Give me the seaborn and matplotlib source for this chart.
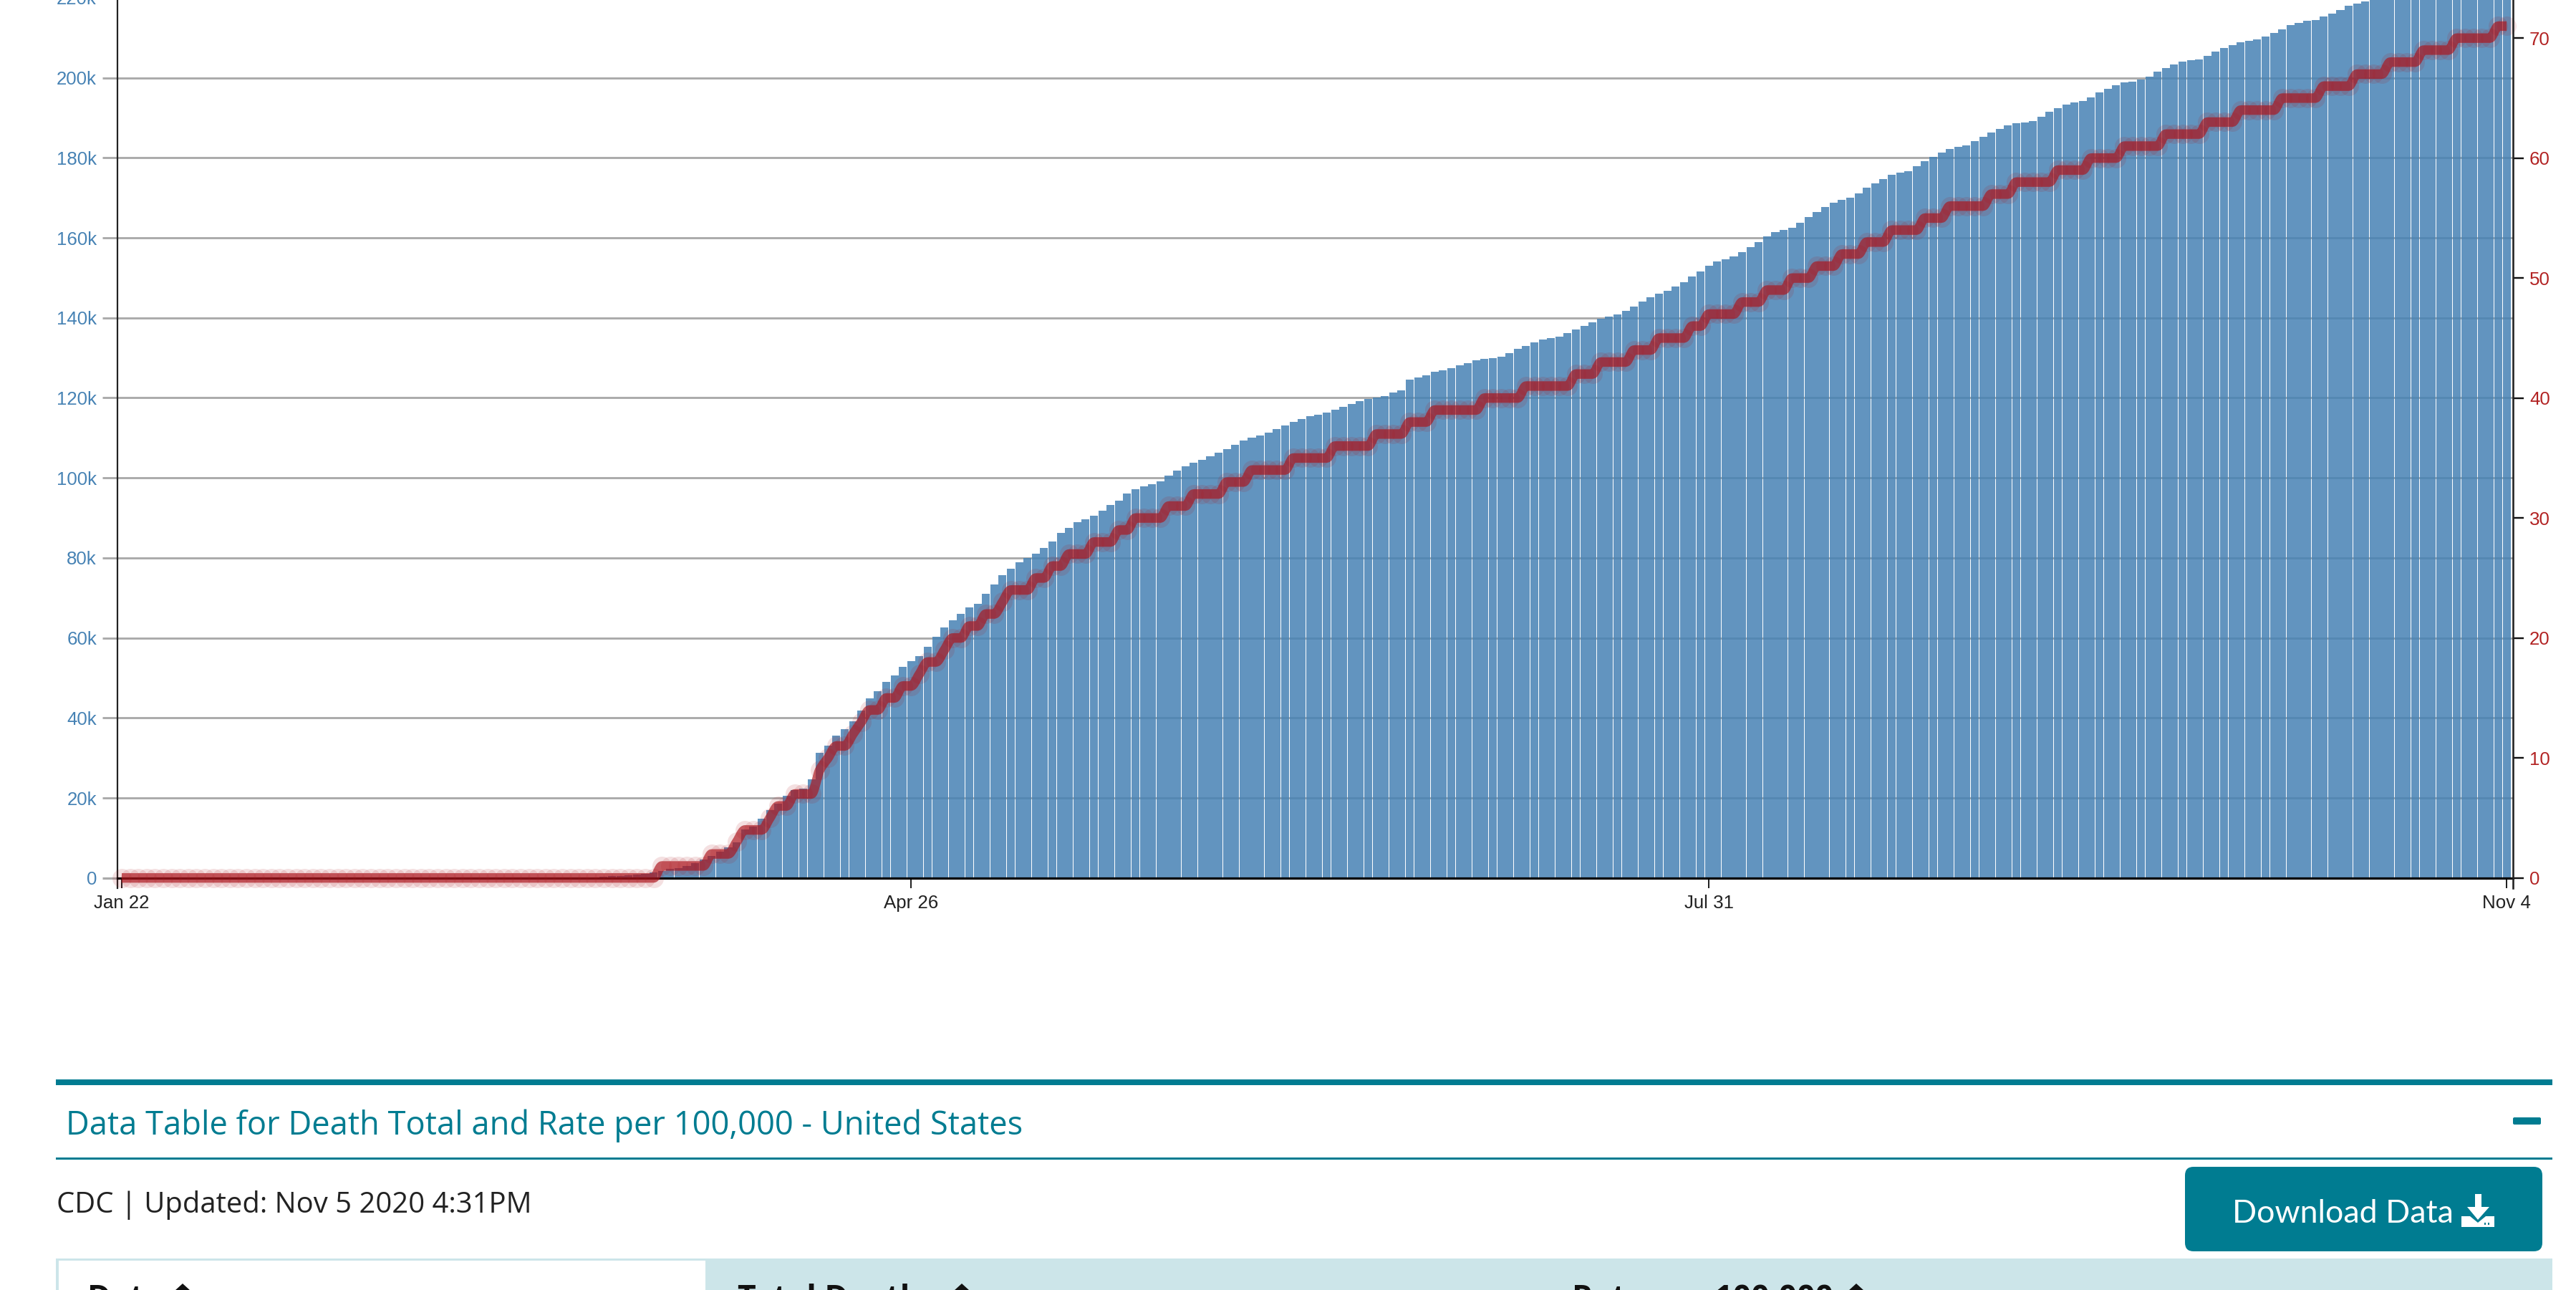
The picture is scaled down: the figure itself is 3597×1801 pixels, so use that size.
import matplotlib
matplotlib.use("Agg")
import matplotlib.pyplot as plt
from matplotlib.patches import FancyBboxPatch, Polygon, Rectangle
import numpy as np
import pandas as pd
import seaborn as sns

W, H = 3598, 1801

# cumulative deaths in thousands, one value per day from Jan 22
deaths = [
    0, 0, 0, 0, 0, 0, 0, 0, 0, 0, 0, 0, 0, 0,
    0, 0, 0, 0, 0, 0, 0, 0, 0, 0, 0, 0, 0, 0,
    0, 0, 0, 0, 0, 0, 0, 0, 0, 0, 0, 0, 0, 0,
    0, 0, 0, 0, 0, 0, 0, 0, 0, 0, 0, 0, 0, 0,
    0.1, 0.2, 0.3, 0.4, 0.5,
    0.6, 0.84, 1.07, 1.43, 1.79, 2.27, 2.5, 3.04, 3.76, 4.66,
    5.55, 6.62, 7.7, 8.95, 12.18, 12.9, 14.86, 17.0, 18.6, 20.6,
    22.0, 22.4, 24.7, 31.2, 33.1, 35.6, 37.2, 39.2, 41.9, 44.9,
    46.7, 49.0, 50.6, 52.8, 54.2, 55.4, 57.8, 60.3, 62.6, 64.4,
    66.0, 67.6, 68.5, 71.0, 73.4, 75.7, 77.3, 78.9, 80.0, 81.0,
    82.5, 84.1, 86.2, 87.5, 88.9, 89.6, 90.5, 91.8, 93.2, 94.3,
    96.1, 97.2, 97.9, 98.4, 99.1, 100.6, 101.8, 102.9, 103.8, 104.5,
    105.4, 106.3, 107.2, 108.3, 109.3, 110.1, 110.6, 111.3, 112.2, 113.1,
    114.0, 114.7, 115.4, 115.8, 116.3, 117.0, 117.8, 118.5, 119.2, 119.7,
    120.1, 120.4, 121.3, 121.9, 124.6, 125.1, 125.6, 126.5, 126.9, 127.4,
    128.1, 128.7, 129.4, 129.8, 129.9, 130.3, 131.2, 132.3, 133.0, 133.9,
    134.6, 134.9, 135.3, 136.2, 137.1, 138.0, 138.9, 139.8, 140.3, 140.9,
    141.7, 142.8, 144.1, 145.2, 146.0, 146.8, 147.8, 148.9, 150.3, 151.6,
    153.0, 154.1, 154.6, 155.4, 156.4, 157.7, 158.9, 160.4, 161.4, 162.0,
    162.5, 163.8, 165.2, 166.5, 167.7, 168.8, 169.5, 170.0, 171.1, 172.5,
    173.6, 174.7, 175.8, 176.3, 176.7, 177.9, 179.1, 180.2, 181.3, 182.2,
    182.7, 183.1, 184.2, 185.3, 186.3, 187.2, 188.1, 188.7, 188.8, 189.2,
    190.3, 191.5, 192.4, 193.3, 193.9, 194.2, 195.1, 196.4, 197.3, 198.2,
    198.9, 199.0, 199.6, 200.3, 201.6, 202.5, 203.3, 204.1, 204.4, 204.6,
    205.5, 206.6, 207.5, 208.2, 208.9, 209.3, 209.6, 210.3, 211.2, 212.1,
    213.2, 213.7, 214.3, 214.4, 215.3, 216.1, 217.0, 218.0, 218.6, 219.1,
    220.0, 220.9, 221.7, 222.2, 222.7, 223.2, 224.0, 224.9, 225.7, 226.5,
    227.0, 227.6, 228.3, 229.2, 230.0, 230.8, 231.7,
]

# rate per 100,000
rate = [
    0, 0, 0, 0, 0, 0, 0, 0, 0, 0, 0, 0, 0, 0,
    0, 0, 0, 0, 0, 0, 0, 0, 0, 0, 0, 0, 0, 0,
    0, 0, 0, 0, 0, 0, 0, 0, 0, 0, 0, 0, 0, 0,
    0, 0, 0, 0, 0, 0, 0, 0, 0, 0, 0, 0, 0, 0,
    0, 0, 0, 0, 0, 0, 0, 0, 0,
    1, 1, 1, 1, 1, 1, 2, 2, 2, 3, 4, 4, 4, 5, 6, 6, 7, 7, 7, 9, 10,
    11, 11, 12, 13, 14, 14, 15, 15, 16, 16, 17, 18, 18, 19, 20, 20,
    21, 21, 22, 22, 23, 24, 24, 24, 25, 25, 26, 26, 27, 27, 27,
    28, 28, 28, 29, 29, 30, 30, 30, 30, 31, 31, 31, 32, 32, 32, 32,
    33, 33, 33, 34, 34, 34, 34, 34, 35, 35, 35, 35, 35,
    36, 36, 36, 36, 36, 37, 37, 37, 37, 38, 38, 38,
    39, 39, 39, 39, 39, 39, 40, 40, 40, 40, 40,
    41, 41, 41, 41, 41, 41, 42, 42, 42, 43, 43, 43, 43,
    44, 44, 44, 45, 45, 45, 45, 46, 46, 47, 47, 47, 47,
    48, 48, 48, 49, 49, 49, 50, 50, 50, 51, 51, 51, 52, 52, 52,
    53, 53, 53, 54, 54, 54, 54, 55, 55, 55, 56, 56, 56, 56, 56,
    57, 57, 57, 58, 58, 58, 58, 58, 59, 59, 59, 59, 60, 60, 60, 60,
    61, 61, 61, 61, 61, 62, 62, 62, 62, 62, 63, 63, 63, 63,
    64, 64, 64, 64, 64, 65, 65, 65, 65, 65, 66, 66, 66, 66,
    67, 67, 67, 67, 68, 68, 68, 68, 69, 69, 69, 69,
    70, 70, 70, 70, 70, 71, 71,
]

x_tick_pos = [0, 95, 191, 287]
x_tick_labels = ["Jan 22", "Apr 26", "Jul 31", "Nov 4"]
left_ticks = [0, 20, 40, 60, 80, 100, 120, 140, 160, 180, 200, 220]
left_labels = ["0", "20k", "40k", "60k", "80k", "100k", "120k", "140k", "160k", "180k", "200k", "220k"]
right_ticks = [0, 10, 20, 30, 40, 50, 60, 70]

TEAL = "#007c91"
BLUE = "steelblue"
RED = "#ac141c"
px = 72 / 100  # one pixel in points at dpi 100


def monotone_curve(x, y, n=14):
    # same kind of smoothing as a monotone cubic line
    x = np.asarray(x, float)
    y = np.asarray(y, float)
    s = np.diff(y) / np.diff(x)
    m = np.zeros(len(x))
    m[0], m[-1] = s[0], s[-1]
    both = s[:-1] * s[1:] > 0
    m[1:-1][both] = 2 * s[:-1][both] * s[1:][both] / (s[:-1][both] + s[1:][both])
    xs, ys = [], []
    t = np.linspace(0, 1, n, endpoint=False)
    for i in range(len(x) - 1):
        h = x[i + 1] - x[i]
        xs.append(x[i] + t * h)
        ys.append((2*t**3 - 3*t**2 + 1) * y[i] + (t**3 - 2*t**2 + t) * h * m[i]
                  + (-2*t**3 + 3*t**2) * y[i + 1] + (t**3 - t**2) * h * m[i + 1])
    return np.append(np.concatenate(xs), x[-1]), np.append(np.concatenate(ys), y[-1])


sns.set_theme(style="white")
plt.rcParams["font.family"] = ["Liberation Sans", "DejaVu Sans"]

df = pd.DataFrame({
    "date": pd.date_range("2020-01-22", periods=len(deaths)).strftime("%b %d"),
    "deaths": deaths,
    "rate": rate,
})
df["pos"] = np.arange(len(df))

fig = plt.figure(figsize=(W / 100, H / 100), dpi=100, facecolor="white")

# axes run a little past the top of the canvas, as the screenshot is cut there
base_y, top_y, left_x, right_x = 1225.7, -20, 164, 3509
ax = fig.add_axes([left_x / W, (H - base_y) / H, (right_x - left_x) / W, (base_y - top_y) / H])
ax.set_axisbelow(True)
sns.barplot(data=df, x="date", y="deaths", color=BLUE, saturation=1, alpha=0.85,
            width=0.952, linewidth=0, ax=ax)
ax.set_xlim(-0.517, 287.77)
ax.set_ylim(0, (base_y - top_y) / 5.585)
ax.set_xlabel("")
ax.set_ylabel("")
ax.set_xticks(x_tick_pos)
ax.set_xticklabels(x_tick_labels, fontsize=18.6, color="#222222")
ax.set_yticks(left_ticks)
ax.set_yticklabels(left_labels, fontsize=18.6, color=BLUE)
ax.yaxis.grid(True, color="#aaaaaa", linewidth=2.9 * px)
ax.xaxis.grid(False)
ax.tick_params(axis="x", length=14 * px, width=2 * px, color="#222222", pad=9 * px, bottom=True)
ax.tick_params(axis="y", length=21 * px, width=2.9 * px, color="#aaaaaa", pad=8 * px, left=True)
ax.yaxis.get_major_ticks()[0].tick1line.set_color("black")
ax.yaxis.get_major_ticks()[0].tick1line.set_markeredgewidth(3.2 * px)
for name in ["top", "right"]:
    ax.spines[name].set_visible(False)
ax.spines["left"].set_color("#222222")
ax.spines["left"].set_linewidth(2.2 * px)
ax.spines["left"].set_bounds(-14 / 5.585, ax.get_ylim()[1])
ax.spines["bottom"].set_color("black")
ax.spines["bottom"].set_linewidth(3.2 * px)

ax2 = ax.twinx()
ax2.set_ylim(0, (base_y - top_y) / 16.75)
ax2.set_yticks(right_ticks)
ax2.set_yticklabels([str(v) for v in right_ticks], fontsize=18.6, color="#b22222")
ax2.tick_params(axis="y", length=15 * px, width=2.4 * px, color="#111111", pad=8 * px, right=True)
ax2.grid(False)
for name in ["top", "left", "bottom"]:
    ax2.spines[name].set_visible(False)
ax2.spines["right"].set_color("#222222")
ax2.spines["right"].set_linewidth(2.6 * px)
ax2.spines["right"].set_bounds(-14 / 16.75, ax2.get_ylim()[1])

xs, ys = monotone_curve(df["pos"], df["rate"])
sns.lineplot(x=xs, y=ys, estimator=None, sort=False, errorbar=None, color=RED, alpha=0.66,
             linewidth=13.3 * px, ax=ax2, clip_on=False, solid_capstyle="butt")
sns.scatterplot(data=df, x="pos", y="rate", s=(27 * px) ** 2, color=RED, alpha=0.13,
                linewidth=0, ax=ax2, clip_on=False)
ax2.set_xlabel("")
ax2.set_ylabel("")
ax2.set_xlim(ax.get_xlim())

# page furniture under the chart, in screenshot pixels
page = fig.add_axes([0, 0, 1, 1], zorder=5)
page.set_xlim(0, W)
page.set_ylim(H, 0)
page.axis("off")
page.add_patch(Rectangle((78.5, 1507), 3564 - 78.5, 8, color=TEAL, lw=0))
page.add_patch(Rectangle((78.5, 1616), 3564 - 78.5, 3, color=TEAL, lw=0))
page.text(92, 1584, "Data Table for Death Total and Rate per 100,000 - United States",
          family="Open Sans", fontsize=32.6, color=TEAL, va="baseline")
page.text(79, 1693, "CDC | Updated: Nov 5 2020 4:31PM", family="Open Sans", fontsize=28.8,
          color="#222222", va="baseline")
page.add_patch(FancyBboxPatch((3511, 1562), 35, 6, boxstyle="round,pad=2,rounding_size=2",
                              color=TEAL, lw=0))

# download button
page.add_patch(FancyBboxPatch((3063, 1641), 475, 94, boxstyle="round,pad=12,rounding_size=12",
                              color=TEAL, lw=0))
page.text(3117, 1707, "Download Data", family="Lato", fontsize=32.2, color="white", va="baseline")
page.add_patch(Polygon([(3437, 1698), (3449, 1698), (3460, 1707), (3471, 1698), (3483, 1698),
                        (3483, 1713), (3437, 1713)], color="white", lw=0))
page.add_patch(Polygon([(3456, 1667), (3465, 1667), (3465, 1685), (3476, 1685), (3460, 1703),
                        (3445, 1685), (3456, 1685)], color="white", lw=0))
page.add_patch(Rectangle((3469, 1707), 2.5, 3, color=TEAL, lw=0))
page.add_patch(Rectangle((3474, 1707), 2.5, 3, color=TEAL, lw=0))

# table header, cut by the bottom of the canvas
page.add_patch(Rectangle((78.5, 1757), 3564 - 78.5, H - 1757, color="#cce5e9", lw=0))
page.add_patch(Rectangle((82, 1760), 985 - 82, H - 1760, color="white", lw=0))
for label, x, arrow_x in [("Date", 122, 255), ("Total Deaths", 1030, 1343), ("Rate per 100,000", 2195, 2592)]:
    page.text(x, 1826, label, family="Open Sans", weight="bold", fontsize=32, color="#111111", va="baseline")
    page.add_patch(Polygon([(arrow_x, 1792), (arrow_x + 11, 1802), (arrow_x - 11, 1802)], color="#111111", lw=0))

fig.savefig("out.png", dpi=100)
